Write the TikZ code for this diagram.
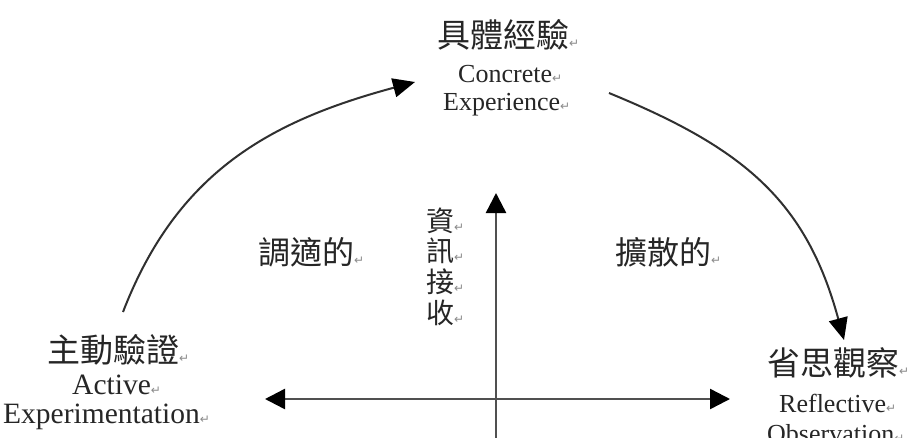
\documentclass[tikz,border=0pt]{standalone}
\usepackage{fontspec}
\setmainfont{Liberation Serif}
\newfontfamily\cjk{Noto Sans CJK TC}
\newfontfamily\symfont{DejaVu Sans}
\usetikzlibrary{arrows.meta}
\definecolor{axisgray}{HTML}{505050}
\definecolor{arcgray}{HTML}{303030}
\definecolor{markgray}{HTML}{8A8A8A}
\newcommand\retmark{{\symfont\fontsize{12}{12}\selectfont\textcolor{markgray}{↵}}}
\tikzset{
  axtip/.tip={Triangle[length=20pt,width=20pt,black]},
  cyctip/.tip={Triangle[length=22pt,width=19pt,black]}
}
\begin{document}
\begin{tikzpicture}[x=1pt,y=-1pt,
  cjkbig/.style={font=\cjk\fontsize{33}{33}\selectfont, inner sep=0pt, anchor=west, text=black!85},
  cjkmid/.style={font=\cjk\fontsize{32}{32}\selectfont, inner sep=0pt, anchor=west, text=black!85},
  cjksm/.style={font=\cjk\fontsize{28}{28}\selectfont, inner sep=0pt, anchor=west, text=black!85},
  latsm/.style={font=\fontsize{26}{26}\selectfont, inner sep=0pt, anchor=base west, text=black!85},
  latlg/.style={font=\fontsize{29.5}{29.5}\selectfont, inner sep=0pt, anchor=base west, text=black!85},
  axisline/.style={draw=axisgray, line width=2.5pt},
  cyc/.style={draw=arcgray, line width=2pt, -cyctip}]
\useasboundingbox[fill=white] (0,0) rectangle (920,437);

% top
\node[cjkbig] (ce) at (437,35) {具體經驗\retmark};
\node[latsm] (ce1) at (458,82) {Concrete\retmark};
\node[latsm] (ce2) at (443,110) {Experience\retmark};

% left
\node[cjkbig] (ae) at (47,350) {主動驗證\retmark};
\node[latlg] (ae1) at (72,394) {Active\retmark};
\node[latlg] (ae2) at (3,423) {Experimentation\retmark};

% right
\node[cjkbig] (ro) at (767,363) {省思觀察\retmark};
\node[latsm] (ro1) at (779,412) {Reflective\retmark};
\node[latsm] (ro2) at (767,442) {Observation\retmark};

% middle labels
\node[cjkmid] (acc) at (258,252) {調適的\retmark};
\node[cjkmid] (div) at (615,252) {擴散的\retmark};
\node[cjksm] (z1) at (426,221) {資\retmark};
\node[cjksm] (z2) at (426,251) {訊\retmark};
\node[cjksm] (z3) at (426,282) {接\retmark};
\node[cjksm] (z4) at (426,313) {收\retmark};

% axes
\coordinate (hl) at (265,399);
\coordinate (hr) at (730,399);
\coordinate (vb) at (496,445);
\coordinate (vt) at (496,193);
\draw[axisline, axtip-axtip] (hl) -- (hr);
\draw[axisline, -axtip] (vb) -- (vt);

% cycle arcs
\coordinate (l0) at (123,312);
\coordinate (l1) at (415,82);
\coordinate (r0) at (609,93);
\coordinate (r1) at (844,340);
\draw[cyc] (l0) .. controls (177,172) and (270,121) .. (l1);
\draw[cyc] (r0) .. controls (743,148) and (806,200) .. (r1);
\end{tikzpicture}
\end{document}
